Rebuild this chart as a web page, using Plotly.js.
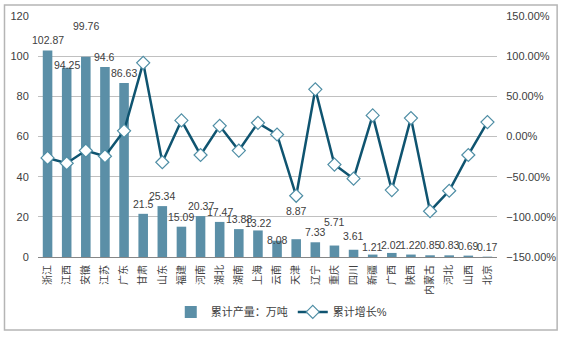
<!DOCTYPE html>
<html>
<head>
<meta charset="utf-8">
<script src="https://cdn.plot.ly/plotly-3.0.1.min.js"></script>
<style>
  html, body { margin: 0; padding: 0; background: #ffffff; }
  #chart { width: 563px; height: 338px; }
</style>
</head>
<body>
<div id="chart"></div>
<script>
// ---- data ----
const provinces = ["浙江","江西","安徽","江苏","广东","甘肃","山东","福建","河南","湖北","湖南","上海","云南","天津","辽宁","重庆","四川","新疆","广西","陕西","内蒙古","河北","山西","北京"];
const output = [102.87, 94.25, 99.76, 94.6, 86.63, 21.5, 25.34, 15.09, 20.37, 17.47, 13.88, 13.22, 8.08, 8.87, 7.33, 5.71, 3.61, 1.21, 2.02, 1.22, 0.85, 0.83, 0.69, 0.17];
const growth = [-0.267, -0.333, -0.175, -0.246, 0.071, 0.917, -0.32, 0.20, -0.23, 0.133, -0.175, 0.17, 0.025, -0.738, 0.5875, -0.35, -0.525, 0.2625, -0.667, 0.229, -0.93, -0.675, -0.23, 0.179];
const outputName = "累计产量：万吨";
const growthName = "累计增长%";

// ---- label placement (style config, not data) ----
const labelNudge = {"江西": -7, "安徽": 21, "上海": -3, "云南": -9, "天津": 18, "重庆": 14, "四川": 4, "新疆": -2, "广西": -2};

const FONT = '"Liberation Sans", Arial, "Noto Sans CJK SC", sans-serif';
const TXT = '#404040';

const traces = [
  {
    type: 'bar',
    name: outputName,
    x: provinces,
    y: output,
    marker: { color: '#5b8fa7', line: { width: 0 } },
    yaxis: 'y',
    hoverinfo: 'skip'
  },
  {
    type: 'scatter',
    mode: 'lines+markers',
    name: growthName,
    x: provinces,
    y: growth,
    yaxis: 'y2',
    line: { color: '#0f5470', width: 2.5 },
    marker: { symbol: 'diamond', size: 10, color: '#ffffff', line: { color: '#4f8ea5', width: 1.2 } },
    cliponaxis: false,
    hoverinfo: 'skip'
  }
];

const annotations = provinces.map((p, i) => ({
  x: p, y: output[i], xref: 'x', yref: 'y',
  text: String(output[i]),
  showarrow: false,
  yanchor: 'bottom',
  yshift: 2 + (labelNudge[p] || 0),
  font: { family: FONT, size: 10.5, color: TXT }
}));

const layout = {
  width: 563, height: 338,
  margin: { l: 38, r: 66, t: 16, b: 81, autoexpand: false },
  paper_bgcolor: '#ffffff',
  plot_bgcolor: '#ffffff',
  font: { family: FONT, size: 11, color: TXT },
  bargap: 0.5,
  showlegend: true,
  legend: {
    orientation: 'h', x: 0.53, xanchor: 'center', y: -0.228, yanchor: 'middle',
    font: { family: FONT, size: 11, color: TXT },
    itemwidth: 30, traceorder: 'normal'
  },
  xaxis: {
    type: 'category', automargin: false,
    range: [-0.5, provinces.length - 0.5], autorange: false,
    tickangle: -90,
    tickfont: { family: FONT, size: 10, color: TXT },
    showline: true, linecolor: '#868686', linewidth: 1,
    showgrid: false, ticks: 'outside', ticklen: 3, tickcolor: 'rgba(0,0,0,0)', fixedrange: true
  },
  yaxis: {
    range: [0, 120], dtick: 20, automargin: false,
    showgrid: true, gridcolor: '#c0c0c0', gridwidth: 1,
    zeroline: false, showline: false,
    ticks: 'outside', ticklen: 6, tickcolor: 'rgba(0,0,0,0)',
    tickfont: { family: FONT, size: 11, color: TXT },
    fixedrange: true
  },
  yaxis2: {
    overlaying: 'y', side: 'right', automargin: false,
    range: [-1.5, 1.5], dtick: 0.5, tickformat: '.2%',
    showgrid: false, zeroline: false, showline: false,
    ticks: 'outside', ticklen: 6, tickcolor: 'rgba(0,0,0,0)',
    tickfont: { family: FONT, size: 11, color: TXT },
    fixedrange: true
  },
  annotations: annotations,
  shapes: [{
    type: 'rect', xref: 'paper', yref: 'paper',
    x0: -0.073, x1: 1.131, y0: -0.303, y1: 1.046,
    line: { color: '#b5b5b5', width: 1.5 }, fillcolor: 'rgba(0,0,0,0)', layer: 'below'
  }]
};

Plotly.newPlot('chart', traces, layout, { displayModeBar: false, staticPlot: true });
</script>
</body>
</html>
